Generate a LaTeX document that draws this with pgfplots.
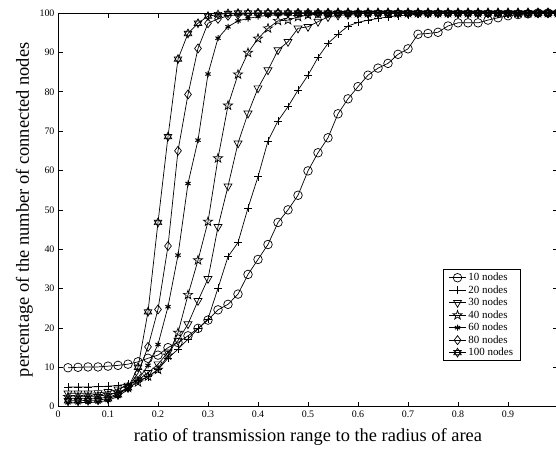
\documentclass[border=0pt]{standalone}
\usepackage{pgfplots}
\usepackage{pgfplotstable}
\pgfplotsset{compat=1.18}
\usepackage{fontspec}
\setmainfont{Liberation Serif}

% open five-pointed star
\pgfdeclareplotmark{pentagram}{%
  \pgfpathmoveto{\pgfpointpolar{90}{1.25\pgfplotmarksize}}%
  \pgfpathlineto{\pgfpointpolar{126}{0.5\pgfplotmarksize}}%
  \pgfpathlineto{\pgfpointpolar{162}{1.25\pgfplotmarksize}}%
  \pgfpathlineto{\pgfpointpolar{198}{0.5\pgfplotmarksize}}%
  \pgfpathlineto{\pgfpointpolar{234}{1.25\pgfplotmarksize}}%
  \pgfpathlineto{\pgfpointpolar{270}{0.5\pgfplotmarksize}}%
  \pgfpathlineto{\pgfpointpolar{306}{1.25\pgfplotmarksize}}%
  \pgfpathlineto{\pgfpointpolar{342}{0.5\pgfplotmarksize}}%
  \pgfpathlineto{\pgfpointpolar{18}{1.25\pgfplotmarksize}}%
  \pgfpathlineto{\pgfpointpolar{54}{0.5\pgfplotmarksize}}%
  \pgfpathclose\pgfusepathqstroke}
% open six-pointed star made of two triangles
\pgfdeclareplotmark{hexagram}{%
  \pgfpathmoveto{\pgfpointpolar{90}{1.1\pgfplotmarksize}}%
  \pgfpathlineto{\pgfpointpolar{210}{1.1\pgfplotmarksize}}%
  \pgfpathlineto{\pgfpointpolar{330}{1.1\pgfplotmarksize}}%
  \pgfpathclose
  \pgfpathmoveto{\pgfpointpolar{270}{1.1\pgfplotmarksize}}%
  \pgfpathlineto{\pgfpointpolar{30}{1.1\pgfplotmarksize}}%
  \pgfpathlineto{\pgfpointpolar{150}{1.1\pgfplotmarksize}}%
  \pgfpathclose\pgfusepathqstroke}

% ratio, then connected percentage for 10,20,30,40,60,80,100 nodes
\pgfplotstableread{
x    n10  n20  n30  n40  n60  n80  n100
0.02 9.9  5.0  3.4  2.5  1.0  2.0  1.5
0.04 10.0 5.0  3.4  2.5  1.0  2.0  1.5
0.06 10.1 5.0  3.4  2.6  1.1  2.0  1.6
0.08 10.1 5.1  3.5  2.7  1.2  2.1  1.7
0.10 10.3 5.2  3.8  3.0  1.6  2.4  2.0
0.12 10.5 5.4  4.4  3.6  2.6  3.2  3.0
0.14 10.8 5.8  5.4  4.8  4.4  5.0  4.8
0.16 11.4 6.6  6.8  6.2  6.8  8.5  10.0
0.18 12.3 7.6  8.6  7.7  10.5 15.2 24.1
0.20 13.1 9.4  10.8 9.4  15.8 24.7 46.8
0.22 15.0 12.3 13.8 13.0 25.4 40.8 68.6
0.24 16.3 14.6 16.8 18.8 38.5 65.0 88.3
0.26 18.0 17.2 21.0 28.4 56.7 79.3 94.8
0.28 19.9 19.8 26.9 37.2 67.7 91.0 97.4
0.30 22.0 22.3 32.5 47.0 84.5 97.4 99.2
0.32 24.6 30.1 45.7 63.1 93.6 98.5 99.6
0.34 26.0 38.1 56.0 76.5 96.5 99.3 99.9
0.36 28.6 41.7 66.9 84.4 98.0 99.6 100
0.38 33.6 50.5 74.5 89.9 98.6 99.8 100
0.40 37.4 58.4 80.9 93.5 99.1 100  100
0.42 41.2 67.5 85.5 96.1 99.4 100  100
0.44 46.8 72.6 90.6 98.0 99.6 100  100
0.46 50.0 76.2 92.7 98.2 99.8 100  100
0.48 53.7 80.4 96.1 99.0 100  100  100
0.50 59.9 84.2 96.5 99.5 100  100  100
0.52 64.5 88.7 97.8 99.7 100  100  100
0.54 68.3 92.3 99.0 99.9 100  100  100
0.56 74.4 94.6 99.4 100  100  100  100
0.58 78.2 96.7 99.6 100  100  100  100
0.60 81.3 97.6 99.8 100  100  100  100
0.62 84.2 98.2 99.9 100  100  100  100
0.64 86.0 98.6 100  100  100  100  100
0.66 87.2 99.0 100  100  100  100  100
0.68 89.5 99.3 100  100  100  100  100
0.70 90.9 99.5 100  100  100  100  100
0.72 94.6 99.7 100  100  100  100  100
0.74 94.8 99.8 100  100  100  100  100
0.76 95.1 99.9 100  100  100  100  100
0.78 96.7 100  100  100  100  100  100
0.80 97.5 100  100  100  100  100  100
0.82 97.5 100  100  100  100  100  100
0.84 97.5 100  100  100  100  100  100
0.86 98.2 100  100  100  100  100  100
0.88 98.8 100  100  100  100  100  100
0.90 99.3 100  100  100  100  100  100
0.92 99.6 100  100  100  100  100  100
0.94 99.8 100  100  100  100  100  100
0.96 100  100  100  100  100  100  100
0.98 100  100  100  100  100  100  100
1.00 100  100  100  100  100  100  100
}\conn

\begin{document}
\begin{tikzpicture}
% fixed page frame; the right spine falls just outside it
\useasboundingbox (-58bp,-42.3bp) rectangle (498bp,406.7bp);
\begin{axis}[
  at={(0bp,0bp)}, anchor=south west,
  scale only axis,
  width=500bp, height=393.7bp,
  xmin=0, xmax=1, ymin=0, ymax=100,
  xtick={0,0.1,0.2,0.3,0.4,0.5,0.6,0.7,0.8,0.9},
  xticklabels={0,0.1,0.2,0.3,0.4,0.5,0.6,0.7,0.8,0.9},
  ytick={0,10,20,30,40,50,60,70,80,90,100},
  tick align=inside,
  major tick length=5bp,
  axis line style={line width=0.9bp},
  tick style={line width=0.6bp, black},
  /pgf/number format/assume math mode=true,
  ticklabel style={font=\fontsize{10}{12}\selectfont},
  xticklabel style={yshift=-1bp},
  xlabel={ratio of transmission range to the radius of area},
  ylabel={percentage of the number of connected nodes},
  label style={font=\fontsize{18.5}{22}\selectfont},
  xlabel style={at={(axis description cs:0.5,0)}, anchor=base, yshift=-35bp},
  ylabel style={at={(axis description cs:0,0.5)}, anchor=base, rotate=0, yshift=29bp},
  every axis plot/.append style={black, line width=0.7bp, mark options={solid, line width=0.7bp}},
  legend style={at={(axis description cs:0.925,0.349)}, anchor=north east,
    font=\fontsize{11}{12}\selectfont, draw=black, line width=0.8bp,
    inner xsep=5bp, inner ysep=1.5bp, row sep=-0.6bp, cells={anchor=west},
    column 2/.style={nodes={text width=60bp, align=left}}},
  legend image code/.code={%
    \draw[mark repeat=2,mark phase=2] plot coordinates {(0bp,0bp) (8.5bp,0bp) (17bp,0bp)};},
]
\addplot[mark=o, mark size=4.3bp] table[x=x, y=n10] {\conn};
\addlegendentry{10 nodes}
\addplot[mark=+, mark size=3.8bp] table[x=x, y=n20] {\conn};
\addlegendentry{20 nodes}
\addplot[mark=triangle, mark size=4.6bp, mark options={rotate=180}] table[x=x, y=n30] {\conn};
\addlegendentry{30 nodes}
\addplot[mark=pentagram, mark size=3.8bp] table[x=x, y=n40] {\conn};
\addlegendentry{40 nodes}
\addplot[mark=asterisk, mark size=3bp, mark options={line width=1bp}] table[x=x, y=n60] {\conn};
\addlegendentry{60 nodes}
\addplot[mark=diamond, mark size=4.5bp] table[x=x, y=n80] {\conn};
\addlegendentry{80 nodes}
\addplot[mark=hexagram, mark size=4bp] table[x=x, y=n100] {\conn};
\addlegendentry{100 nodes}
\end{axis}
\end{tikzpicture}
\end{document}
